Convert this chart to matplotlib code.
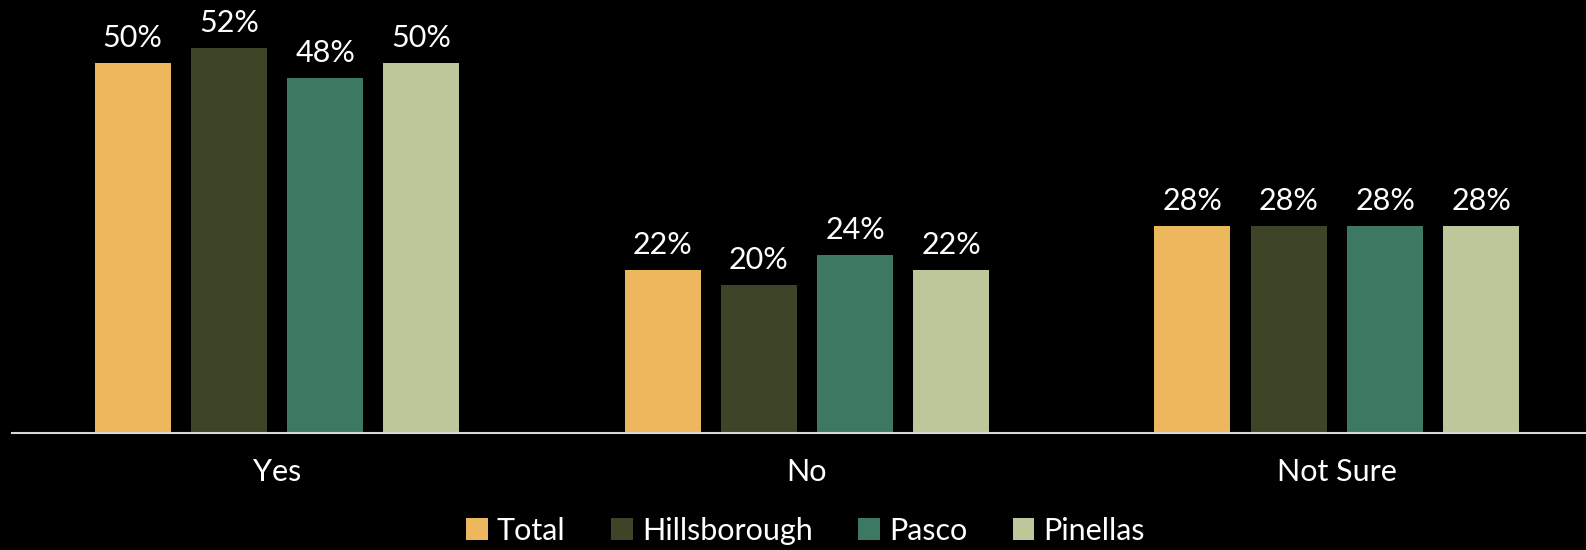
import matplotlib
matplotlib.use("Agg")
import matplotlib.pyplot as plt
import numpy as np

categories = ["Yes", "No", "Not Sure"]
series = ["Total", "Hillsborough", "Pasco", "Pinellas"]
total = [50, 22, 28]
hillsborough = [52, 20, 28]
pasco = [48, 24, 28]
pinellas = [50, 22, 28]
colors = ["#EDB75E", "#3E4428", "#3D7862", "#BCC89A"]

values = [total, hillsborough, pasco, pinellas]

plt.rcParams['font.family'] = ['Lato', 'DejaVu Sans']
FS = 22

fig = plt.figure(figsize=(15.86, 5.5), dpi=100, facecolor="black")
ax = fig.add_axes([12/1586, 117/550, 1 - 12/1586, 433/550])
ax.set_facecolor("black")

x = np.arange(len(categories))
step = 0.1817
width = 0.1434
for i, (name, vals, c) in enumerate(zip(series, values, colors)):
    pos = x + (i - 1.5) * step
    bars = ax.bar(pos, vals, width, color=c, label=name)
    for b, v in zip(bars, vals):
        ax.annotate(f"{v}%", (b.get_x() + b.get_width() / 2, v),
                    xytext=(0, 8), textcoords="offset points",
                    ha="center", va="bottom", color="white",
                    fontsize=FS)

ax.set_xlim(-0.5, 2.47)
ax.set_ylim(0, 58.5)
ax.set_xticks(x)
ax.set_xticklabels(categories, fontsize=FS, color="white")
ax.tick_params(axis="x", length=0, pad=18)
ax.set_yticks([])
for s in ["top", "right", "left"]:
    ax.spines[s].set_visible(False)
ax.spines["bottom"].set_color("#D9D9D9")
ax.spines["bottom"].set_linewidth(1.5)

leg = fig.legend(loc="center", bbox_to_anchor=(0.508, 0.035), ncol=4,
                 frameon=False, fontsize=FS, handlelength=0.7, handleheight=0.7,
                 handletextpad=0.3, columnspacing=1.5)
for t in leg.get_texts():
    t.set_color("white")

fig.savefig("out.png", dpi=100, facecolor="black")
